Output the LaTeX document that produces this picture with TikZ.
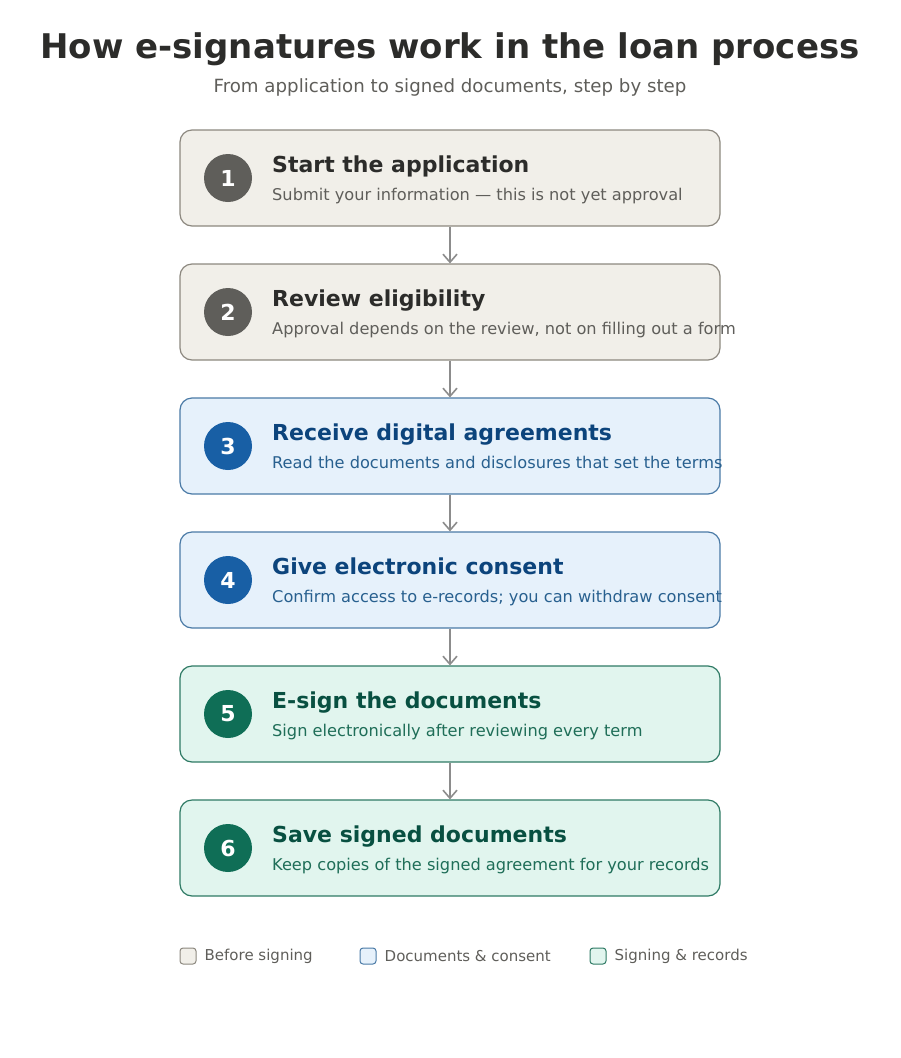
\documentclass[tikz,border=0pt]{standalone}
\usepackage{fontspec}
\setmainfont{DejaVu Sans}
\usetikzlibrary{arrows.meta,positioning}

\definecolor{fillbase}{HTML}{F1EFE9}
\definecolor{linebase}{HTML}{8C887F}
\definecolor{dotbase}{HTML}{5F5E5A}
\definecolor{headbase}{HTML}{2C2C2A}
\definecolor{textbase}{HTML}{5F5E5A}
\definecolor{filldocs}{HTML}{E6F1FB}
\definecolor{linedocs}{HTML}{4A7AA6}
\definecolor{dotdocs}{HTML}{185FA5}
\definecolor{headdocs}{HTML}{0C447C}
\definecolor{textdocs}{HTML}{28608F}
\definecolor{fillsign}{HTML}{E1F5EE}
\definecolor{linesign}{HTML}{2E7A64}
\definecolor{dotsign}{HTML}{0F6E56}
\definecolor{headsign}{HTML}{085041}
\definecolor{textsign}{HTML}{1F6E58}
\definecolor{flowgray}{HTML}{8C8C8C}

\tikzset{
	stepbox/.style={rectangle,rounded corners=12pt,line width=1.2pt,minimum width=540pt,minimum height=96pt,inner sep=0pt},
	stepdot/.style={circle,minimum size=48pt,inner sep=0pt,text=white,font=\fontsize{22}{24}\selectfont\bfseries},
	stephead/.style={anchor=base west,inner sep=0pt,font=\fontsize{22}{26}\selectfont\bfseries},
	stepnote/.style={anchor=base west,inner sep=0pt,font=\fontsize{16.2}{19}\selectfont},
	flow/.style={draw=flowgray,line width=1.6pt,-{Straight Barb[length=8pt,width=14pt,line width=1.6pt]}},
	legbox/.style={rectangle,rounded corners=3pt,line width=1pt,minimum size=16pt,inner sep=0pt},
	legtext/.style={inner sep=0pt,text=textbase,font=\fontsize{15}{18}\selectfont}
}

\begin{document}
\begin{tikzpicture}[x=1pt,y=-1pt]
	\useasboundingbox (0,0) rectangle (900,1058);
	% title
	\node[font=\fontsize{34}{40}\selectfont\bfseries,text=headbase,anchor=base] (title) at (450,58) {How e-signatures work in the loan process};
	\node[font=\fontsize{18.2}{21}\selectfont,text=textbase,anchor=base] (subtitle) at (450,92) {From application to signed documents, step by step};
	% steps
	\foreach \n/\grp/\ttl/\sub in {
		1/base/{Start the application}/{Submit your information — this is not yet approval},
		2/base/{Review eligibility}/{Approval depends on the review, not on filling out a form},
		3/docs/{Receive digital agreements}/{Read the documents and disclosures that set the terms},
		4/docs/{Give electronic consent}/{Confirm access to e-records; you can withdraw consent},
		5/sign/{E-sign the documents}/{Sign electronically after reviewing every term},
		6/sign/{Save signed documents}/{Keep copies of the signed agreement for your records}}{
		\pgfmathsetmacro{\yy}{178+134*(\n-1)}
		\node[stepbox,fill=fill\grp,draw=line\grp] (box\n) at (450,\yy) {};
		\node[stepdot,fill=dot\grp] (dot\n) at (228,\yy) {\n};
		\node[stephead,text=head\grp] (head\n) at (272,\yy-6) {\ttl};
		\node[stepnote,text=text\grp] (note\n) at (272,\yy+22) {\sub};
	}
	\foreach \n in {1,...,5}{
		\pgfmathtruncatemacro{\m}{\n+1}
		\draw[flow] (box\n.south) -- (box\m.north);
	}
	% legend
	\node[legbox,fill=fillbase,draw=linebase] (legA) at (188,956) {};
	\node[legtext,right=8pt of legA] (legAtext) {Before signing};
	\node[legbox,fill=filldocs,draw=linedocs] (legB) at (368,956) {};
	\node[legtext,right=8pt of legB] (legBtext) {Documents \& consent};
	\node[legbox,fill=fillsign,draw=linesign] (legC) at (598,956) {};
	\node[legtext,right=8pt of legC] (legCtext) {Signing \& records};
\end{tikzpicture}
\end{document}
